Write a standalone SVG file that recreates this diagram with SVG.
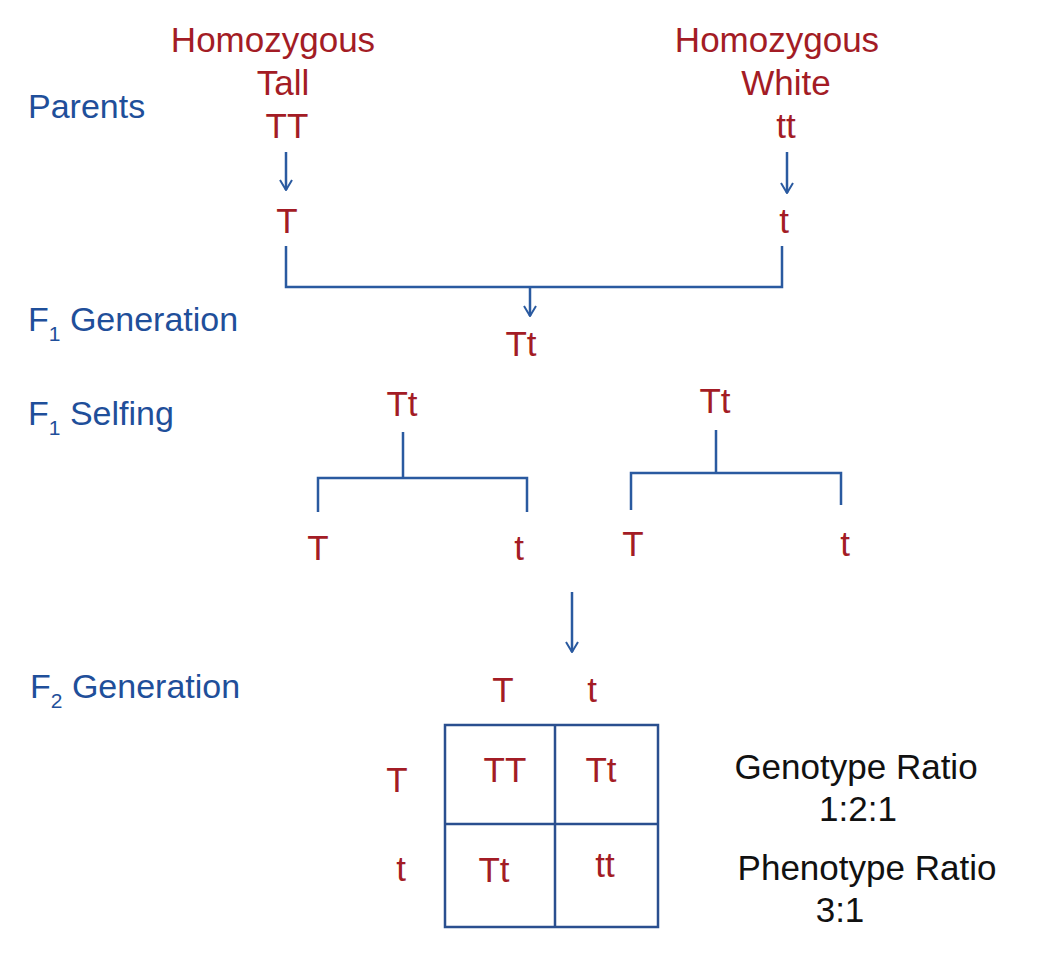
<svg xmlns="http://www.w3.org/2000/svg" width="1038" height="962" viewBox="0 0 1038 962">
<style>
text{font-family:"Liberation Sans",Arial,sans-serif}
.r{fill:#a31c25;font-size:35px;text-anchor:middle}
.b{fill:#1f4f9a;font-size:34px}
.k{fill:#111;font-size:35px;text-anchor:middle}
.sub{font-size:21px}
.l{stroke:#2a5aa0;stroke-width:2.5;fill:none}
.g{stroke:#2a4f8f;stroke-width:2.5;fill:none}
</style>
<defs><marker id="a" viewBox="0 0 12 14" refX="11" refY="7" markerWidth="12" markerHeight="14" markerUnits="userSpaceOnUse" orient="auto"><path d="M1,1 L11,7 L1,13" fill="none" stroke="#2a5aa0" stroke-width="2"/></marker></defs>
<rect width="1038" height="962" fill="#fff"/>
<g id="labels">
<text class="b" x="28" y="118">Parents</text>
<text class="b" x="28" y="331">F<tspan class="sub" dy="10">1</tspan><tspan dy="-10"> Generation</tspan></text>
<text class="b" x="28" y="425">F<tspan class="sub" dy="10">1</tspan><tspan dy="-10"> Selfing</tspan></text>
<text class="b" x="30" y="698">F<tspan class="sub" dy="10">2</tspan><tspan dy="-10"> Generation</tspan></text>
</g>
<g id="p1"><text class="r" x="273" y="52">Homozygous</text><text class="r" x="283" y="95">Tall</text><text class="r" x="287" y="138">TT</text><text class="r" x="287" y="233">T</text></g>
<g id="p2"><text class="r" x="777" y="52">Homozygous</text><text class="r" x="786" y="95">White</text><text class="r" x="786" y="138">tt</text><text class="r" x="784" y="233">t</text></g>
<g id="f1"><text class="r" x="521" y="356">Tt</text></g>
<g id="s1"><text class="r" x="402" y="416">Tt</text><text class="r" x="318" y="560">T</text><text class="r" x="519" y="560">t</text></g>
<g id="s2"><text class="r" x="715" y="413">Tt</text><text class="r" x="633" y="556">T</text><text class="r" x="845" y="556">t</text></g>
<g id="grid">
<text class="r" x="503" y="702">T</text><text class="r" x="592" y="702">t</text>
<text class="r" x="397" y="792">T</text><text class="r" x="401" y="881">t</text>
<rect class="g" x="445" y="725" width="213" height="202"/>
<line class="g" x1="445" y1="824" x2="658" y2="824"/><line class="g" x1="555" y1="725" x2="555" y2="927"/>
<text class="r" x="505" y="782">TT</text><text class="r" x="601" y="782">Tt</text>
<text class="r" x="494" y="882">Tt</text><text class="r" x="605" y="877">tt</text>
</g>
<g id="ratios">
<text class="k" x="856" y="779">Genotype Ratio</text><text class="k" x="858" y="821">1:2:1</text>
<text class="k" x="867" y="880">Phenotype Ratio</text><text class="k" x="840" y="922">3:1</text>
</g>
<g id="connectors">
<line class="l" x1="286" y1="152" x2="286" y2="190" marker-end="url(#a)"/>
<line class="l" x1="787" y1="152" x2="787" y2="193" marker-end="url(#a)"/>
<path class="l" d="M286,246 V287 H782 V246"/>
<line class="l" x1="530" y1="287" x2="530" y2="316" marker-end="url(#a)"/>
<path class="l" d="M403,432 V478 M318,512 V478 H527 V512"/>
<path class="l" d="M716,430 V473 M631,510 V473 H841 V505"/>
<line class="l" x1="572" y1="592" x2="572" y2="652" marker-end="url(#a)"/>
</g>
</svg>
